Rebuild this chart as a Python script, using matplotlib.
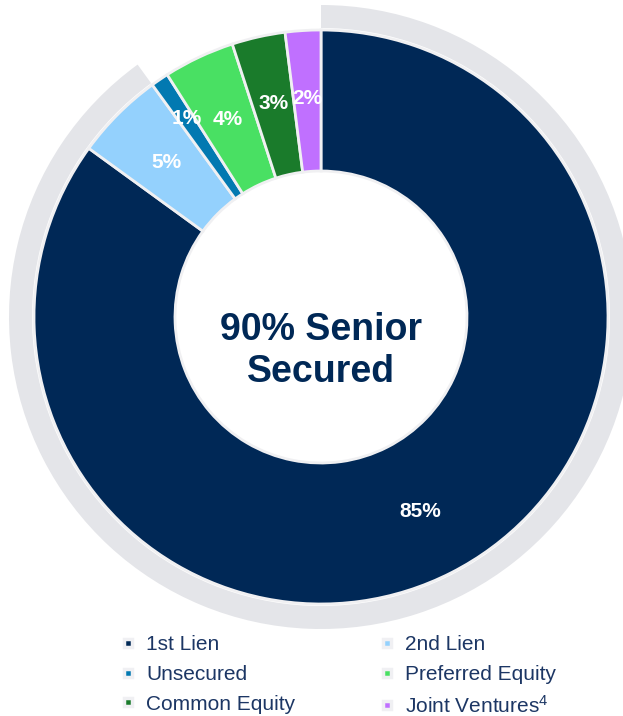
import matplotlib
matplotlib.use("Agg")
import matplotlib.pyplot as plt
import numpy as np
from matplotlib.lines import Line2D

plt.rcParams['font.family'] = ['Liberation Sans', 'DejaVu Sans']
plt.rcParams['mathtext.fontset'] = 'custom'
plt.rcParams['mathtext.rm'] = 'Liberation Sans'
plt.rcParams['mathtext.it'] = 'Liberation Sans'

categories = ["1st Lien", "2nd Lien", "Unsecured", "Preferred Equity",
              "Common Equity", "Joint Ventures$^{4}$"]
values = [85, 5, 1, 4, 3, 2]
colors = ["#002856", "#94d1fd", "#0279b1", "#49e063", "#1a7b2b", "#c070ff"]
senior_secured = [90, 10]
center_text = "90% Senior\nSecured"

W, H = 623, 716
fig = plt.figure(figsize=(W / 100, H / 100), dpi=100)
ax = fig.add_axes([0, 0, 1, 1])

cx, cy = 321, H - 317
R = 287
ring_w = 141

# outer gray arc for senior secured share
ax.pie(senior_secured, radius=312, center=(cx, cy), startangle=90,
       counterclock=False, colors=["#e4e5e9", "none"],
       wedgeprops=dict(width=23, linewidth=0))

wedges, _, autotexts = ax.pie(
    values, radius=R, center=(cx, cy), startangle=90, counterclock=False,
    colors=colors, autopct=lambda p: f"{p:.0f}%", pctdistance=(R - ring_w / 2 + 2) / R,
    wedgeprops=dict(width=ring_w, edgecolor="#f0f0f2", linewidth=2),
    textprops=dict(color="white", fontsize=15, fontweight="bold"))

ax.set_xlim(0, W)
ax.set_ylim(0, H)
ax.set_aspect('equal')
ax.axis('off')

# push the tiny slice's label outward to avoid overlap
for w, t, v in zip(wedges, autotexts, values):
    if v <= 1:
        ang = np.deg2rad((w.theta1 + w.theta2) / 2)
        r = R - ring_w / 2 + 23
        t.set_position((cx + r * np.cos(ang), cy + r * np.sin(ang)))

ax.text(cx, H - 351, center_text, ha="center", va="center", fontsize=27,
        fontweight="bold", color="#002856", linespacing=1.2)

handles = [Line2D([], [], linestyle="none", marker="s", markersize=5.5,
                  markerfacecolor=c, markeredgecolor="#f0f0f3",
                  markeredgewidth=2.5) for c in colors]
order = [0, 2, 4, 1, 3, 5]
leg = fig.legend([handles[i] for i in order], [categories[i] for i in order],
                 ncol=2, loc="upper left", bbox_to_anchor=(120 / W, 1 - 635 / H),
                 frameon=False, fontsize=15, handlelength=0.8, handletextpad=0.45,
                 columnspacing=4.0, labelspacing=0.52, borderpad=0, borderaxespad=0)
for t in leg.get_texts():
    t.set_color("#1c3664")

fig.savefig("out.png", dpi=100)
